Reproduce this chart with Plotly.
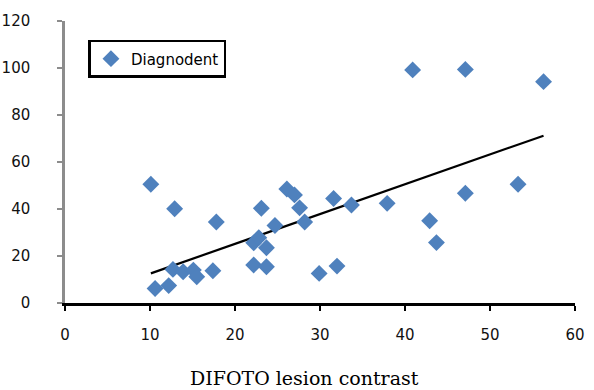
import numpy as np
import plotly.graph_objects as go

# Data
difoto = [10.1, 12.9, 17.8, 10.6, 12.2, 12.7, 13.9, 15.1, 15.5, 17.4,
          22.2, 22.2, 22.8, 23.7, 23.7, 23.1, 24.7, 26.1, 27.0, 27.6,
          28.2, 29.9, 32.0, 31.6, 33.7, 37.9, 40.9, 47.1, 56.3, 53.3,
          47.1, 42.9, 43.7]
diagnodent = [50.5, 40.1, 34.5, 6.2, 7.4, 14.3, 13.3, 14.0, 11.2, 13.7,
              16.2, 25.6, 27.8, 23.5, 15.4, 40.3, 33.0, 48.5, 46.0, 40.5,
              34.5, 12.6, 15.7, 44.5, 41.7, 42.4, 99.2, 99.4, 94.2, 50.5,
              46.7, 35.0, 25.7]

# Trendline (endpoints)
trend_x = [10.1, 56.3]
trend_y = [12.6, 71.2]

x_ticks = [0, 10, 20, 30, 40, 50, 60]
y_ticks = [0, 20, 40, 60, 80, 100, 120]
x_title = "DIFOTO lesion contrast"
series_name = "Diagnodent"

fig = go.Figure()
fig.add_trace(go.Scatter(
    x=trend_x, y=trend_y, mode="lines",
    line=dict(color="black", width=2.2), showlegend=False, hoverinfo="skip"))
fig.add_trace(go.Scatter(
    x=difoto, y=diagnodent, mode="markers", name=series_name,
    marker=dict(symbol="diamond", size=13, color="#4F81BD",
                line=dict(width=0))))

tick_font = dict(family="DejaVu Sans, sans-serif", size=15, color="#111111")
fig.update_layout(
    width=594, height=390,
    margin=dict(l=65, r=19, t=21, b=87, autoexpand=False),
    paper_bgcolor="white", plot_bgcolor="white",
    showlegend=True,
    legend=dict(x=0.046, y=0.933, xanchor="left", yanchor="top",
                bordercolor="black", borderwidth=2.5, bgcolor="white",
                font=dict(family="DejaVu Sans, sans-serif", size=15, color="black"),
                itemwidth=30),
    xaxis=dict(range=[0, 60], tickvals=x_ticks, ticktext=[str(v) for v in x_ticks],
               showgrid=False, zeroline=False, showline=True, linecolor="black",
               linewidth=3, ticks="outside", ticklen=5, tickwidth=2, tickcolor="black",
               tickfont=tick_font, ticklabelstandoff=11, automargin=False),
    yaxis=dict(range=[0, 120], tickvals=y_ticks, ticktext=[str(v) for v in y_ticks],
               showgrid=False, zeroline=False, showline=True, linecolor="#8c8c8c",
               linewidth=2.5, ticks="outside", ticklen=5, tickwidth=2, tickcolor="#8c8c8c",
               tickfont=tick_font, ticklabelstandoff=24, automargin=False),
)
fig.layout.annotations = [dict(text=x_title, x=0.47, y=-0.266, xref="paper", yref="paper",
                               xanchor="center", yanchor="middle", showarrow=False,
                               font=dict(family="DejaVu Serif, serif", size=19, color="black"))]
fig.write_html("out.html")
